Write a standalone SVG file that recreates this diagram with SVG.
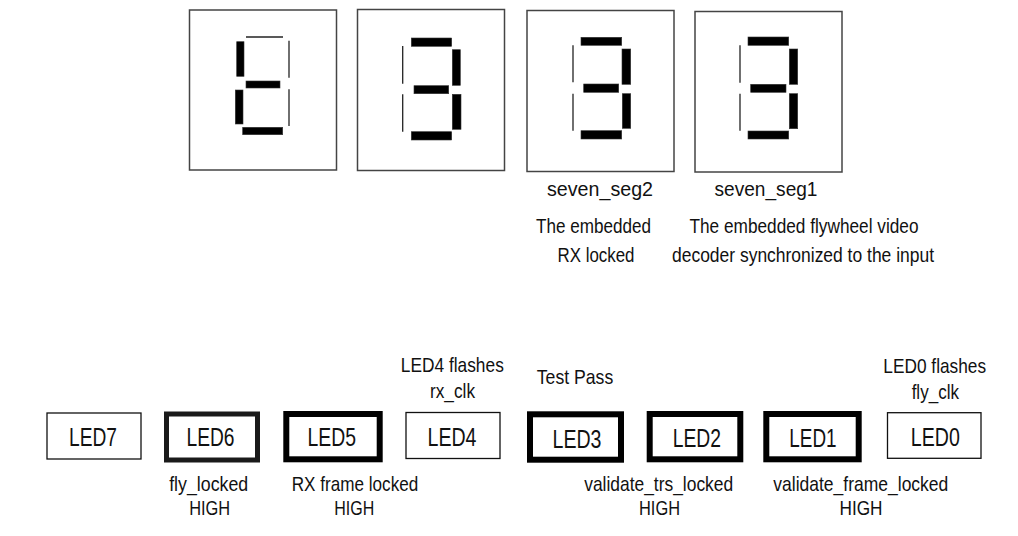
<svg xmlns="http://www.w3.org/2000/svg" width="1018" height="536" viewBox="0 0 1018 536">
<style>
text{font-family:"Liberation Sans",Arial,sans-serif;fill:#111;text-anchor:middle}
.frame{fill:#fff;stroke:#444;stroke-width:1.5}
.on{fill:#000;stroke:#333;stroke-width:0.6}
.off{stroke:#222;stroke-width:1.3;fill:none}
.thin{fill:#fff;stroke:#111;stroke-width:1.3}
.thick{fill:#fff;stroke:#000;stroke-width:6}
.mid{fill:#fff;stroke:#1a1a1a;stroke-width:5}
.led{font-size:25px}
.lbl{font-size:21px}
.seg{font-size:20.5px}
.desc{font-size:20px}
</style>
<rect width="1018" height="536" fill="#fff"/>
<g id="seven_seg4">
<rect class="frame" x="189.5" y="10" width="147" height="160"/>
<line class="off" x1="246" y1="37" x2="283" y2="37"/>
<rect class="on" x="236.7" y="41.7" width="7.3" height="34.6"/>
<line class="off" x1="289" y1="40.7" x2="289" y2="77.7"/>
<rect class="on" x="246" y="81" width="34" height="7"/>
<rect class="on" x="235.3" y="90" width="7.7" height="34"/>
<line class="off" x1="289" y1="89.3" x2="289" y2="126"/>
<rect class="on" x="242.7" y="127.3" width="40" height="7.4"/>
</g>
<g id="seven_seg3">
<rect class="frame" x="357.5" y="9.5" width="147" height="161"/>
<rect class="on" x="411.3" y="38" width="40.4" height="8.3"/>
<line class="off" x1="402.7" y1="46" x2="402.7" y2="83.7"/>
<rect class="on" x="452.3" y="49.7" width="8" height="35.6"/>
<rect class="on" x="414" y="85.7" width="34.7" height="8"/>
<line class="off" x1="402.7" y1="94.3" x2="402.7" y2="131.7"/>
<rect class="on" x="452.3" y="94.3" width="8.7" height="35"/>
<rect class="on" x="411.3" y="131.7" width="40.4" height="8.3"/>
</g>
<g id="seven_seg2">
<rect class="frame" x="527" y="10.5" width="147" height="161"/>
<rect class="on" x="581" y="37.3" width="40.7" height="8"/>
<line class="off" x1="573" y1="45.3" x2="573" y2="82.3"/>
<rect class="on" x="622" y="49" width="8.7" height="35.3"/>
<rect class="on" x="583.7" y="84" width="35" height="8.3"/>
<line class="off" x1="573" y1="93.7" x2="573" y2="130.7"/>
<rect class="on" x="622.3" y="93.7" width="8.4" height="34.6"/>
<rect class="on" x="581" y="130.7" width="40.7" height="8.3"/>
<text class="seg" x="600" y="196" textLength="106" lengthAdjust="spacingAndGlyphs">seven_seg2</text>
<text class="desc" x="593.5" y="232.5" textLength="115" lengthAdjust="spacingAndGlyphs">The embedded</text>
<text class="desc" x="596" y="261.5" textLength="77" lengthAdjust="spacingAndGlyphs">RX locked</text>
</g>
<g id="seven_seg1">
<rect class="frame" x="695" y="11.5" width="147" height="160.5"/>
<rect class="on" x="748" y="37" width="40.7" height="8.3"/>
<line class="off" x1="740" y1="45.3" x2="740" y2="82.7"/>
<rect class="on" x="789.3" y="49" width="8.4" height="35.3"/>
<rect class="on" x="750.7" y="84.3" width="35.3" height="8"/>
<line class="off" x1="740" y1="93.7" x2="740" y2="130.7"/>
<rect class="on" x="789.3" y="93.7" width="8.4" height="35"/>
<rect class="on" x="748" y="131" width="40.7" height="8"/>
<text class="seg" x="766" y="196" textLength="103" lengthAdjust="spacingAndGlyphs">seven_seg1</text>
<text class="desc" x="804" y="232.5" textLength="229" lengthAdjust="spacingAndGlyphs">The embedded flywheel video</text>
<text class="desc" x="803" y="261.5" textLength="262" lengthAdjust="spacingAndGlyphs">decoder synchronized to the input</text>
</g>
<g id="LED7">
<rect class="thin" x="47" y="413" width="94" height="46"/>
<text class="led" x="93" y="446" textLength="48" lengthAdjust="spacingAndGlyphs">LED7</text>
</g>
<g id="LED6">
<rect class="mid" x="166.5" y="414" width="91" height="46"/>
<text class="led" x="210.5" y="446" textLength="48" lengthAdjust="spacingAndGlyphs">LED6</text>
<text class="lbl" x="208.7" y="491" textLength="79" lengthAdjust="spacingAndGlyphs">fly_locked</text>
<text class="lbl" x="209.7" y="514.5" textLength="41" lengthAdjust="spacingAndGlyphs">HIGH</text>
</g>
<g id="LED5">
<rect class="thick" x="286.3" y="414" width="93.4" height="45.3"/>
<text class="led" x="331.7" y="446" textLength="48.5" lengthAdjust="spacingAndGlyphs">LED5</text>
<text class="lbl" x="355" y="491" textLength="126.5" lengthAdjust="spacingAndGlyphs">RX frame locked</text>
<text class="lbl" x="354.2" y="514.5" textLength="40" lengthAdjust="spacingAndGlyphs">HIGH</text>
</g>
<g id="LED4">
<rect class="thin" x="406" y="412.5" width="94" height="46"/>
<text class="led" x="452" y="446" textLength="49" lengthAdjust="spacingAndGlyphs">LED4</text>
<text class="lbl" x="452.3" y="372" textLength="103" lengthAdjust="spacingAndGlyphs">LED4 flashes</text>
<text class="lbl" x="452.5" y="398" textLength="45" lengthAdjust="spacingAndGlyphs">rx_clk</text>
</g>
<g id="LED3">
<rect class="thick" x="530" y="414.3" width="91" height="45.4"/>
<text class="led" x="577" y="447.5" textLength="49" lengthAdjust="spacingAndGlyphs">LED3</text>
<text class="lbl" x="575" y="383.5" textLength="76.5" lengthAdjust="spacingAndGlyphs">Test Pass</text>
</g>
<g id="LED2">
<rect class="thick" x="649.7" y="414" width="90.6" height="45.3"/>
<text class="led" x="696.8" y="446.5" textLength="48.3" lengthAdjust="spacingAndGlyphs">LED2</text>
<text class="lbl" x="658.7" y="491" textLength="149" lengthAdjust="spacingAndGlyphs">validate_trs_locked</text>
<text class="lbl" x="659.5" y="515" textLength="41" lengthAdjust="spacingAndGlyphs">HIGH</text>
</g>
<g id="LED1">
<rect class="thick" x="766.3" y="414" width="92.4" height="45.3"/>
<text class="led" x="813" y="446.5" textLength="47.3" lengthAdjust="spacingAndGlyphs">LED1</text>
<text class="lbl" x="860.8" y="491" textLength="175" lengthAdjust="spacingAndGlyphs">validate_frame_locked</text>
<text class="lbl" x="861" y="515" textLength="43" lengthAdjust="spacingAndGlyphs">HIGH</text>
</g>
<g id="LED0">
<rect class="thin" x="887.5" y="412.7" width="93.5" height="45.6"/>
<text class="led" x="935.3" y="446" textLength="49" lengthAdjust="spacingAndGlyphs">LED0</text>
<text class="lbl" x="934.7" y="373" textLength="102.7" lengthAdjust="spacingAndGlyphs">LED0 flashes</text>
<text class="lbl" x="935.3" y="398.5" textLength="47.3" lengthAdjust="spacingAndGlyphs">fly_clk</text>
</g>
<g id="connectors"/>
</svg>
